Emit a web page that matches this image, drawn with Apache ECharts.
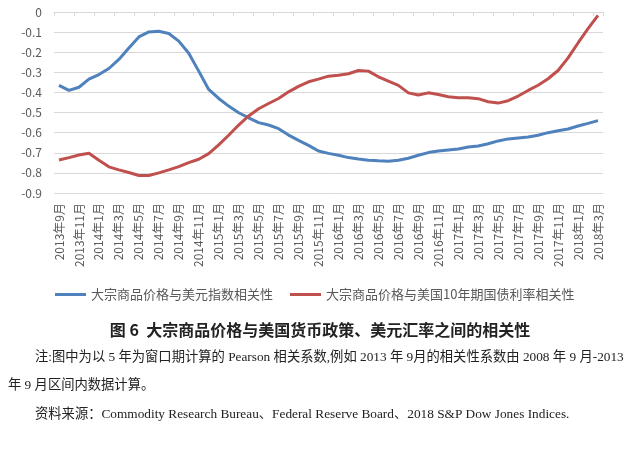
<!DOCTYPE html>
<html>
<head>
<meta charset="utf-8">
<script src="https://cdn.jsdelivr.net/npm/echarts@6/dist/echarts.min.js"></script>
<style>
html,body{margin:0;padding:0;background:#fff;}
#c{width:640px;height:451px;}
</style>
</head>
<body>
<div id="c"></div>
<script>
const categories = [
  '2013年9月','2013年10月','2013年11月','2013年12月',
  '2014年1月','2014年2月','2014年3月','2014年4月','2014年5月','2014年6月','2014年7月','2014年8月','2014年9月','2014年10月','2014年11月','2014年12月',
  '2015年1月','2015年2月','2015年3月','2015年4月','2015年5月','2015年6月','2015年7月','2015年8月','2015年9月','2015年10月','2015年11月','2015年12月',
  '2016年1月','2016年2月','2016年3月','2016年4月','2016年5月','2016年6月','2016年7月','2016年8月','2016年9月','2016年10月','2016年11月','2016年12月',
  '2017年1月','2017年2月','2017年3月','2017年4月','2017年5月','2017年6月','2017年7月','2017年8月','2017年9月','2017年10月','2017年11月','2017年12月',
  '2018年1月','2018年2月','2018年3月'
];
const seriesNames = ['大宗商品价格与美元指数相关性', '大宗商品价格与美国10年期国债利率相关性'];
const usdIndexCorr = [
  -0.365,-0.390,-0.374,-0.334,-0.311,-0.281,-0.236,-0.179,-0.124,-0.099,-0.096,-0.107,-0.145,-0.205,
  -0.294,-0.385,-0.430,-0.468,-0.501,-0.526,-0.550,-0.562,-0.580,-0.612,-0.638,-0.663,-0.691,-0.703,
  -0.712,-0.724,-0.731,-0.737,-0.740,-0.742,-0.737,-0.727,-0.712,-0.699,-0.691,-0.686,-0.681,-0.671,
  -0.666,-0.655,-0.641,-0.631,-0.626,-0.622,-0.613,-0.600,-0.590,-0.582,-0.567,-0.554,-0.540
];
const treasuryCorr = [
  -0.736,-0.724,-0.711,-0.702,-0.737,-0.770,-0.785,-0.798,-0.813,-0.813,-0.800,-0.785,-0.769,-0.749,
  -0.732,-0.704,-0.661,-0.613,-0.562,-0.517,-0.481,-0.455,-0.430,-0.397,-0.370,-0.347,-0.334,-0.319,
  -0.314,-0.307,-0.291,-0.294,-0.322,-0.344,-0.365,-0.402,-0.413,-0.402,-0.410,-0.421,-0.426,-0.426,
  -0.431,-0.446,-0.453,-0.441,-0.418,-0.390,-0.364,-0.332,-0.291,-0.228,-0.154,-0.083,-0.017
];
const yMin = -0.9, yMax = 0, yStep = 0.1;
const captionText = '图 6  大宗商品价格与美国货币政策、美元汇率之间的相关性';
const noteLine1 = '注:图中为以 5 年为窗口期计算的 Pearson 相关系数,例如 2013 年 9月的相关性系数由 2008 年 9 月-2013';
const noteLine2 = '年 9 月区间内数据计算。';
const sourceText = '资料来源：Commodity Research Bureau、Federal Reserve Board、2018 S&P Dow Jones Indices.';

const sans = "'Noto Sans CJK SC', 'Noto Sans', sans-serif";
const serif = "'Liberation Serif', 'Noto Sans CJK SC', serif";
const gray = '#595959';
const gridColor = '#d9d9d9';

const chart = echarts.init(document.getElementById('c'), null, {renderer: 'canvas'});
chart.setOption({
  animation: false,
  backgroundColor: '#fff',
  grid: {left: 54, top: 12, width: 549, height: 181, containLabel: false},
  legend: {
    left: 50, top: 283,
    icon: 'rect', itemWidth: 31, itemHeight: 3, itemGap: 17,
    textStyle: {fontSize: 13, color: gray, fontFamily: sans},
    data: seriesNames
  },
  xAxis: [
    {
      type: 'category', data: categories, position: 'bottom', boundaryGap: true,
      axisLine: {show: false, onZero: false}, axisTick: {show: false},
      axisLabel: {interval: 1, rotate: 90, fontSize: 12, color: gray, margin: 10, fontFamily: sans}
    },
    {
      type: 'category', data: categories, position: 'top', boundaryGap: true,
      axisLine: {show: true, lineStyle: {color: gridColor, width: 1}},
      axisTick: {show: true, inside: true, length: 4, interval: 1, lineStyle: {color: gridColor}},
      axisLabel: {show: false}
    }
  ],
  yAxis: {
    type: 'value', min: yMin, max: yMax, interval: yStep,
    axisLine: {show: false}, axisTick: {show: false},
    splitLine: {lineStyle: {color: gridColor, width: 1}},
    axisLabel: {fontSize: 12, color: gray, margin: 12, fontFamily: sans}
  },
  series: [
    {
      name: seriesNames[0], type: 'line', xAxisIndex: 0, data: usdIndexCorr,
      symbol: 'none', lineStyle: {width: 3, color: '#4F81BD'}, itemStyle: {color: '#4F81BD'}
    },
    {
      name: seriesNames[1], type: 'line', xAxisIndex: 0, data: treasuryCorr,
      symbol: 'none', lineStyle: {width: 3, color: '#C0504D'}, itemStyle: {color: '#C0504D'}
    }
  ],
  graphic: [
    {type: 'text', left: 'center', top: 322, style: {text: captionText, fontSize: 16, fontWeight: 'bold', fill: '#222', fontFamily: sans}},
    {type: 'text', left: 35, top: 351, style: {text: noteLine1, fontSize: 13.3, fill: '#222', fontFamily: serif}},
    {type: 'text', left: 8, top: 379, style: {text: noteLine2, fontSize: 13.3, fill: '#222', fontFamily: serif}},
    {type: 'text', left: 35, top: 408, style: {text: sourceText, fontSize: 13.3, fill: '#222', fontFamily: serif}}
  ]
});
</script>
</body>
</html>
